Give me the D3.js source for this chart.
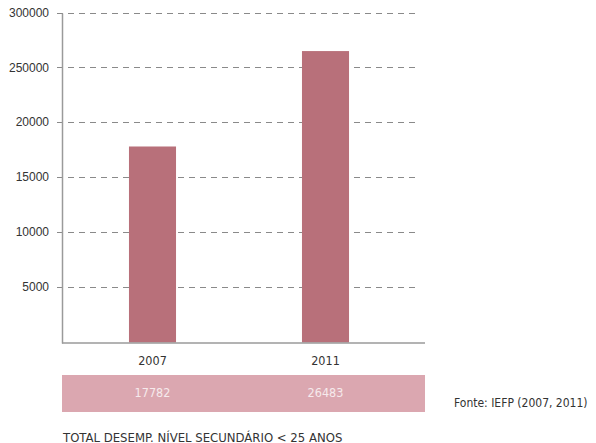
<!DOCTYPE html>
<html>
<head>
<meta charset="utf-8">
<script src="https://cdn.jsdelivr.net/npm/d3@7"></script>
<style>
  html, body { margin: 0; padding: 0; background: #fff; }
  svg { display: block; }
</style>
</head>
<body>
<svg id="chart" width="596" height="443"></svg>
<script>
// Unemployment totals, secondary level, under 25
const years = ["2007", "2011"];
const totals = [17782, 26483];

// Y-axis tick values and the labels printed beside them
const tickValues = [30000, 25000, 20000, 15000, 10000, 5000];
const tickLabels = ["300000", "250000", "20000", "15000", "10000", "5000"];

const title = "TOTAL DESEMP. NÍVEL SECUNDÁRIO < 25 ANOS";
const source = "Fonte: IEFP (2007, 2011)";

const svg = d3.select("#chart");
const axisFont = "Liberation Sans, Arial, sans-serif";
const dinFont = "'DejaVu Sans Condensed', 'Liberation Sans Narrow', sans-serif";

const plotLeft = 62, plotRight = 425;

const y = d3.scaleLinear().domain([0, 30000]).range([341.5, 12.5]);
const x = d3.scaleBand().domain(years).range([66, 412])
  .paddingInner(0.728).paddingOuter(0.364);
const axisY = y(0) + 1;

// dashed gridlines with tick stubs
const grid = svg.append("g");
grid.selectAll("line").data(tickValues).join("line")
  .attr("x1", plotLeft - 5).attr("x2", 420)
  .attr("y1", d => Math.round(y(d)) + 0.5).attr("y2", d => Math.round(y(d)) + 0.5)
  .attr("stroke", "#8a8a8a").attr("stroke-width", 1)
  .attr("stroke-dasharray", "6,5");
grid.selectAll("text").data(tickValues).join("text")
  .attr("x", 49).attr("y", d => y(d)).attr("dy", "0.36em")
  .attr("text-anchor", "end")
  .attr("font-family", axisFont).attr("font-size", 12).attr("fill", "#333")
  .text((d, i) => tickLabels[i]);

// bars
svg.append("g").selectAll("rect").data(totals).join("rect")
  .attr("x", (d, i) => x(years[i]))
  .attr("width", x.bandwidth())
  .attr("y", d => y(d))
  .attr("height", d => axisY - y(d))
  .attr("fill", "#b8707a");

// axis lines
svg.append("line").attr("x1", plotLeft + 0.5).attr("x2", plotLeft + 0.5)
  .attr("y1", y(30000) + 1).attr("y2", axisY + 1)
  .attr("stroke", "#9a9a9a").attr("stroke-width", 1.5);
svg.append("line").attr("x1", plotLeft).attr("x2", plotRight)
  .attr("y1", axisY + 0.5).attr("y2", axisY + 0.5)
  .attr("stroke", "#9a9a9a").attr("stroke-width", 1.5);

// year labels
svg.append("g").selectAll("text").data(years).join("text")
  .attr("x", d => x(d) + x.bandwidth() / 2).attr("y", 365)
  .attr("text-anchor", "middle")
  .attr("font-family", dinFont).attr("font-size", 12.5).attr("fill", "#333")
  .text(d => d);

// value strip
svg.append("rect").attr("x", plotLeft).attr("y", 375)
  .attr("width", plotRight - plotLeft).attr("height", 37)
  .attr("fill", "#dba7b0");
svg.append("g").selectAll("text").data(totals).join("text")
  .attr("x", (d, i) => x(years[i]) + x.bandwidth() / 2).attr("y", 397)
  .attr("text-anchor", "middle")
  .attr("font-family", dinFont).attr("font-size", 12.5).attr("fill", "#f6eaec")
  .text(d => d);

// source note and title
svg.append("text").attr("x", 454).attr("y", 406.5)
  .attr("font-family", dinFont).attr("font-size", 12).attr("fill", "#333")
  .text(source);
svg.append("text").attr("x", 63).attr("y", 441.5)
  .attr("font-family", dinFont).attr("font-size", 13).attr("fill", "#333")
  .text(title);
</script>
</body>
</html>
